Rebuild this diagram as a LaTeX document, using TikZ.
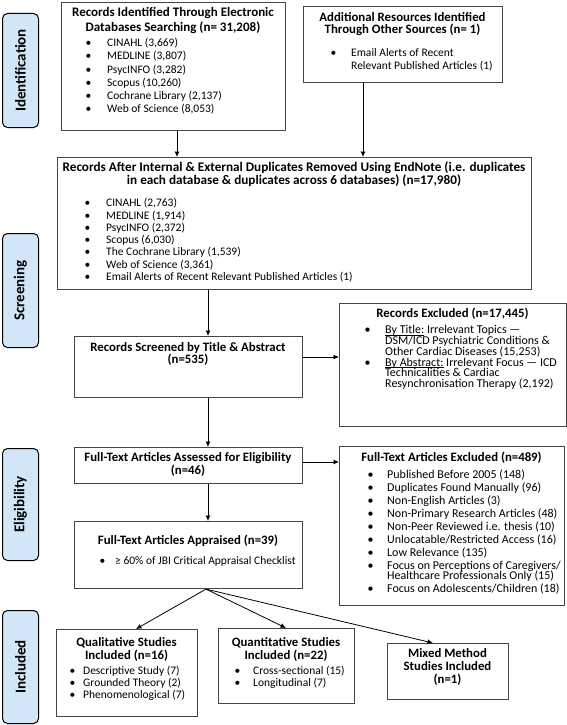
\documentclass[tikz,border=0pt]{standalone}
\usepackage{fontspec}
\setmainfont{Carlito}
\usetikzlibrary{arrows.meta}
\definecolor{phaseblue}{HTML}{D3E6F7}
\definecolor{boxgray}{HTML}{454545}
\newcommand{\fs}[2]{\fontsize{#1}{#2}\selectfont}
\newcommand{\bl}[1]{\makebox[#1][l]{\textbullet}}
\newcommand{\st}{\rule{0pt}{10.5pt}}
\newcommand{\ul}[1]{\underline{\smash{#1}}}
\begin{document}
\begin{tikzpicture}[x=1pt,y=-1pt,
  box/.style={draw=boxgray,line width=1.1pt,inner sep=0pt,anchor=north west},
  phase/.style={draw=black,fill=phaseblue,rounded corners=5pt,line width=1pt,inner sep=0pt,anchor=north west,minimum width=36pt},
  plabel/.style={rotate=90,font=\fs{15}{17}\bfseries},
  ttl/.style={anchor=north,align=center,inner sep=0pt},
  lst/.style={anchor=north west,align=left,inner sep=0pt},
  arr/.style={-{Latex[length=5.5pt,width=5pt]},line width=0.8pt}]
\useasboundingbox (0,0) rectangle (567,725);

% phases
\node[phase,minimum height=114pt] (p1) at (2,13) {};
\node[plabel] (p1t) at (p1.center) {Identification};
\node[phase,minimum height=114pt] (p2) at (2,233) {};
\node[plabel] (p2t) at (p2.center) {Screening};
\node[phase,minimum height=112pt] (p3) at (2,448) {};
\node[plabel] (p3t) at (p3.center) {Eligibility};
\node[phase,minimum height=113pt] (p4) at (2,610) {};
\node[plabel] (p4t) at (p4.center) {Included};

% box 1
\node[box,minimum width=224pt,minimum height=128pt] (b1) at (61,2) {};
\node[ttl,font=\fs{13}{15}\bfseries] (b1t) at (173,5.5) {\st Records Identified Through Electronic\\Databases Searching (n= 31,208)};
\node[lst,font=\fs{11.5}{13.2}] (b1l) at (85.3,36) {\st\bl{21.7pt}CINAHL (3,669)\\\bl{21.7pt}MEDLINE (3,807)\\\bl{21.7pt}PsycINFO (3,282)\\\bl{21.7pt}Scopus (10,260)\\\bl{21.7pt}Cochrane Library (2,137)\\\bl{21.7pt}Web of Science (8,053)};

% box 2
\node[box,minimum width=199pt,minimum height=76pt] (b2) at (303,6) {};
\node[ttl,font=\fs{12.8}{12.5}\bfseries] (b2t) at (402.5,10.5) {\st Additional Resources Identified\\Through Other Sources (n= 1)};
\node[lst,font=\fs{11.5}{13}] (b2l) at (330.3,46) {\st\bl{20.7pt}Email Alerts of Recent\\\hspace*{20.7pt}Relevant Published Articles (1)};

% box 3
\node[box,minimum width=474pt,minimum height=132pt] (b3) at (57,157) {};
\node[ttl,font=\fs{13.2}{13}\bfseries] (b3t) at (294,160.5) {\st Records After Internal \& External Duplicates Removed Using EndNote (i.e. duplicates\\in each database \& duplicates across 6 databases) (n=17,980)};
\node[lst,font=\fs{11.5}{12.3}] (b3l) at (84.3,196) {\st\bl{21.7pt}CINAHL (2,763)\\\bl{21.7pt}MEDLINE (1,914)\\\bl{21.7pt}PsycINFO (2,372)\\\bl{21.7pt}Scopus (6,030)\\\bl{21.7pt}The Cochrane Library (1,539)\\\bl{21.7pt}Web of Science (3,361)\\\bl{21.7pt}Email Alerts of Recent Relevant Published Articles (1)};

% box 4
\node[box,minimum width=228pt,minimum height=61pt] (b4) at (74,336) {};
\node[ttl,font=\fs{12.8}{12.5}\bfseries] (b4t) at (188,340.5) {\st Records Screened by Title \& Abstract\\(n=535)};

% excluded 1
\node[box,minimum width=227pt,minimum height=123pt] (e1) at (339,303) {};
\node[ttl,font=\fs{12.8}{12}\bfseries] (e1t) at (452.5,306.5) {\st Records Excluded (n=17,445)};
\node[lst,font=\fs{12}{10.8}] (e1l) at (364.3,323) {\st\bl{20.7pt}\ul{By Title:} Irrelevant Topics —\\\hspace*{20.7pt}DSM/ICD Psychiatric Conditions \&\\\hspace*{20.7pt}Other Cardiac Diseases (15,253)\\\bl{20.7pt}\ul{By Abstract:} Irrelevant Focus — ICD\\\hspace*{20.7pt}Technicalities \& Cardiac\\\hspace*{20.7pt}Resynchronisation Therapy (2,192)};

% box 5
\node[box,minimum width=228pt,minimum height=36pt] (b5) at (74,447) {};
\node[ttl,font=\fs{12.8}{13}\bfseries] (b5t) at (188,450.5) {\st Full-Text Articles Assessed for Eligibility\\(n=46)};

% excluded 2
\node[box,minimum width=225pt,minimum height=159pt] (e2) at (339,446) {};
\node[ttl,font=\fs{12.8}{12}\bfseries] (e2t) at (451.5,450.5) {\st Full-Text Articles Excluded (n=489)};
\node[lst,font=\fs{12}{12.9}] (e2l) at (367.3,468) {\st\bl{19.7pt}Published Before 2005 (148)\\\bl{19.7pt}Duplicates Found Manually (96)\\\bl{19.7pt}Non-English Articles (3)\\\bl{19.7pt}Non-Primary Research Articles (48)\\\bl{19.7pt}Non-Peer Reviewed i.e. thesis (10)\\\bl{19.7pt}Unlocatable/Restricted Access (16)\\\bl{19.7pt}Low Relevance (135)\\\bl{19.7pt}Focus on Perceptions of Caregivers/\\[-2.4pt]\hspace*{19.7pt}Healthcare Professionals Only (15)\\\bl{19.7pt}Focus on Adolescents/Children (18)};

% box 6
\node[box,minimum width=228pt,minimum height=67pt] (b6) at (74,521) {};
\node[ttl,font=\fs{12.8}{12}\bfseries] (b6t) at (188,533.5) {\st Full-Text Articles Appraised (n=39)};
\node[lst,font=\fs{11.5}{12}] (b6l) at (99.3,554) {\st\bl{15.7pt}≥ 60\% of JBI Critical Appraisal Checklist};

% included
\node[box,minimum width=141pt,minimum height=87pt] (q1) at (56,629) {};
\node[ttl,font=\fs{12.8}{13}\bfseries] (q1t) at (126.5,635.5) {\st Qualitative Studies\\Included (n=16)};
\node[lst,font=\fs{11.5}{11.8}] (q1l) at (69.3,664) {\st\bl{13.7pt}Descriptive Study (7)\\\bl{13.7pt}Grounded Theory (2)\\\bl{13.7pt}Phenomenological (7)};

\node[box,minimum width=136pt,minimum height=75pt] (q2) at (218,628) {};
\node[ttl,font=\fs{12.8}{13}\bfseries] (q2t) at (286,635.5) {\st Quantitative Studies\\Included (n=22)};
\node[lst,font=\fs{11.5}{12}] (q2l) at (234.3,664) {\st\bl{18.7pt}Cross-sectional (15)\\\bl{18.7pt}Longitudinal (7)};

\node[box,minimum width=121pt,minimum height=56pt] (q3) at (387,643) {};
\node[ttl,font=\fs{12.8}{13}\bfseries] (q3t) at (447.5,646.5) {\st Mixed Method\\Studies Included\\(n=1)};

% connectors
\draw[arr] (177,0 |- b1.south) -- (177,0 |- b3.north);
\draw[arr] (363,0 |- b2.south) -- (363,0 |- b3.north);
\draw[arr] (208,0 |- b3.south) -- (208,0 |- b4.north);
\draw[arr] (b4.east |- 0,357) -- (e1.west |- 0,357);
\draw[arr] (208,0 |- b4.south) -- (208,0 |- b5.north);
\draw[arr] (b5.east |- 0,462) -- (e2.west |- 0,462);
\draw[arr] (208,0 |- b5.south) -- (208,0 |- b6.north);
\coordinate (fan) at (206,0 |- b6.south);
\draw[arr] (fan) -- (136,0 |- q1.north);
\draw[arr] (fan) -- (286,0 |- q2.north);
\draw[arr] (fan) -- (433,0 |- q3.north);
\end{tikzpicture}
\end{document}
